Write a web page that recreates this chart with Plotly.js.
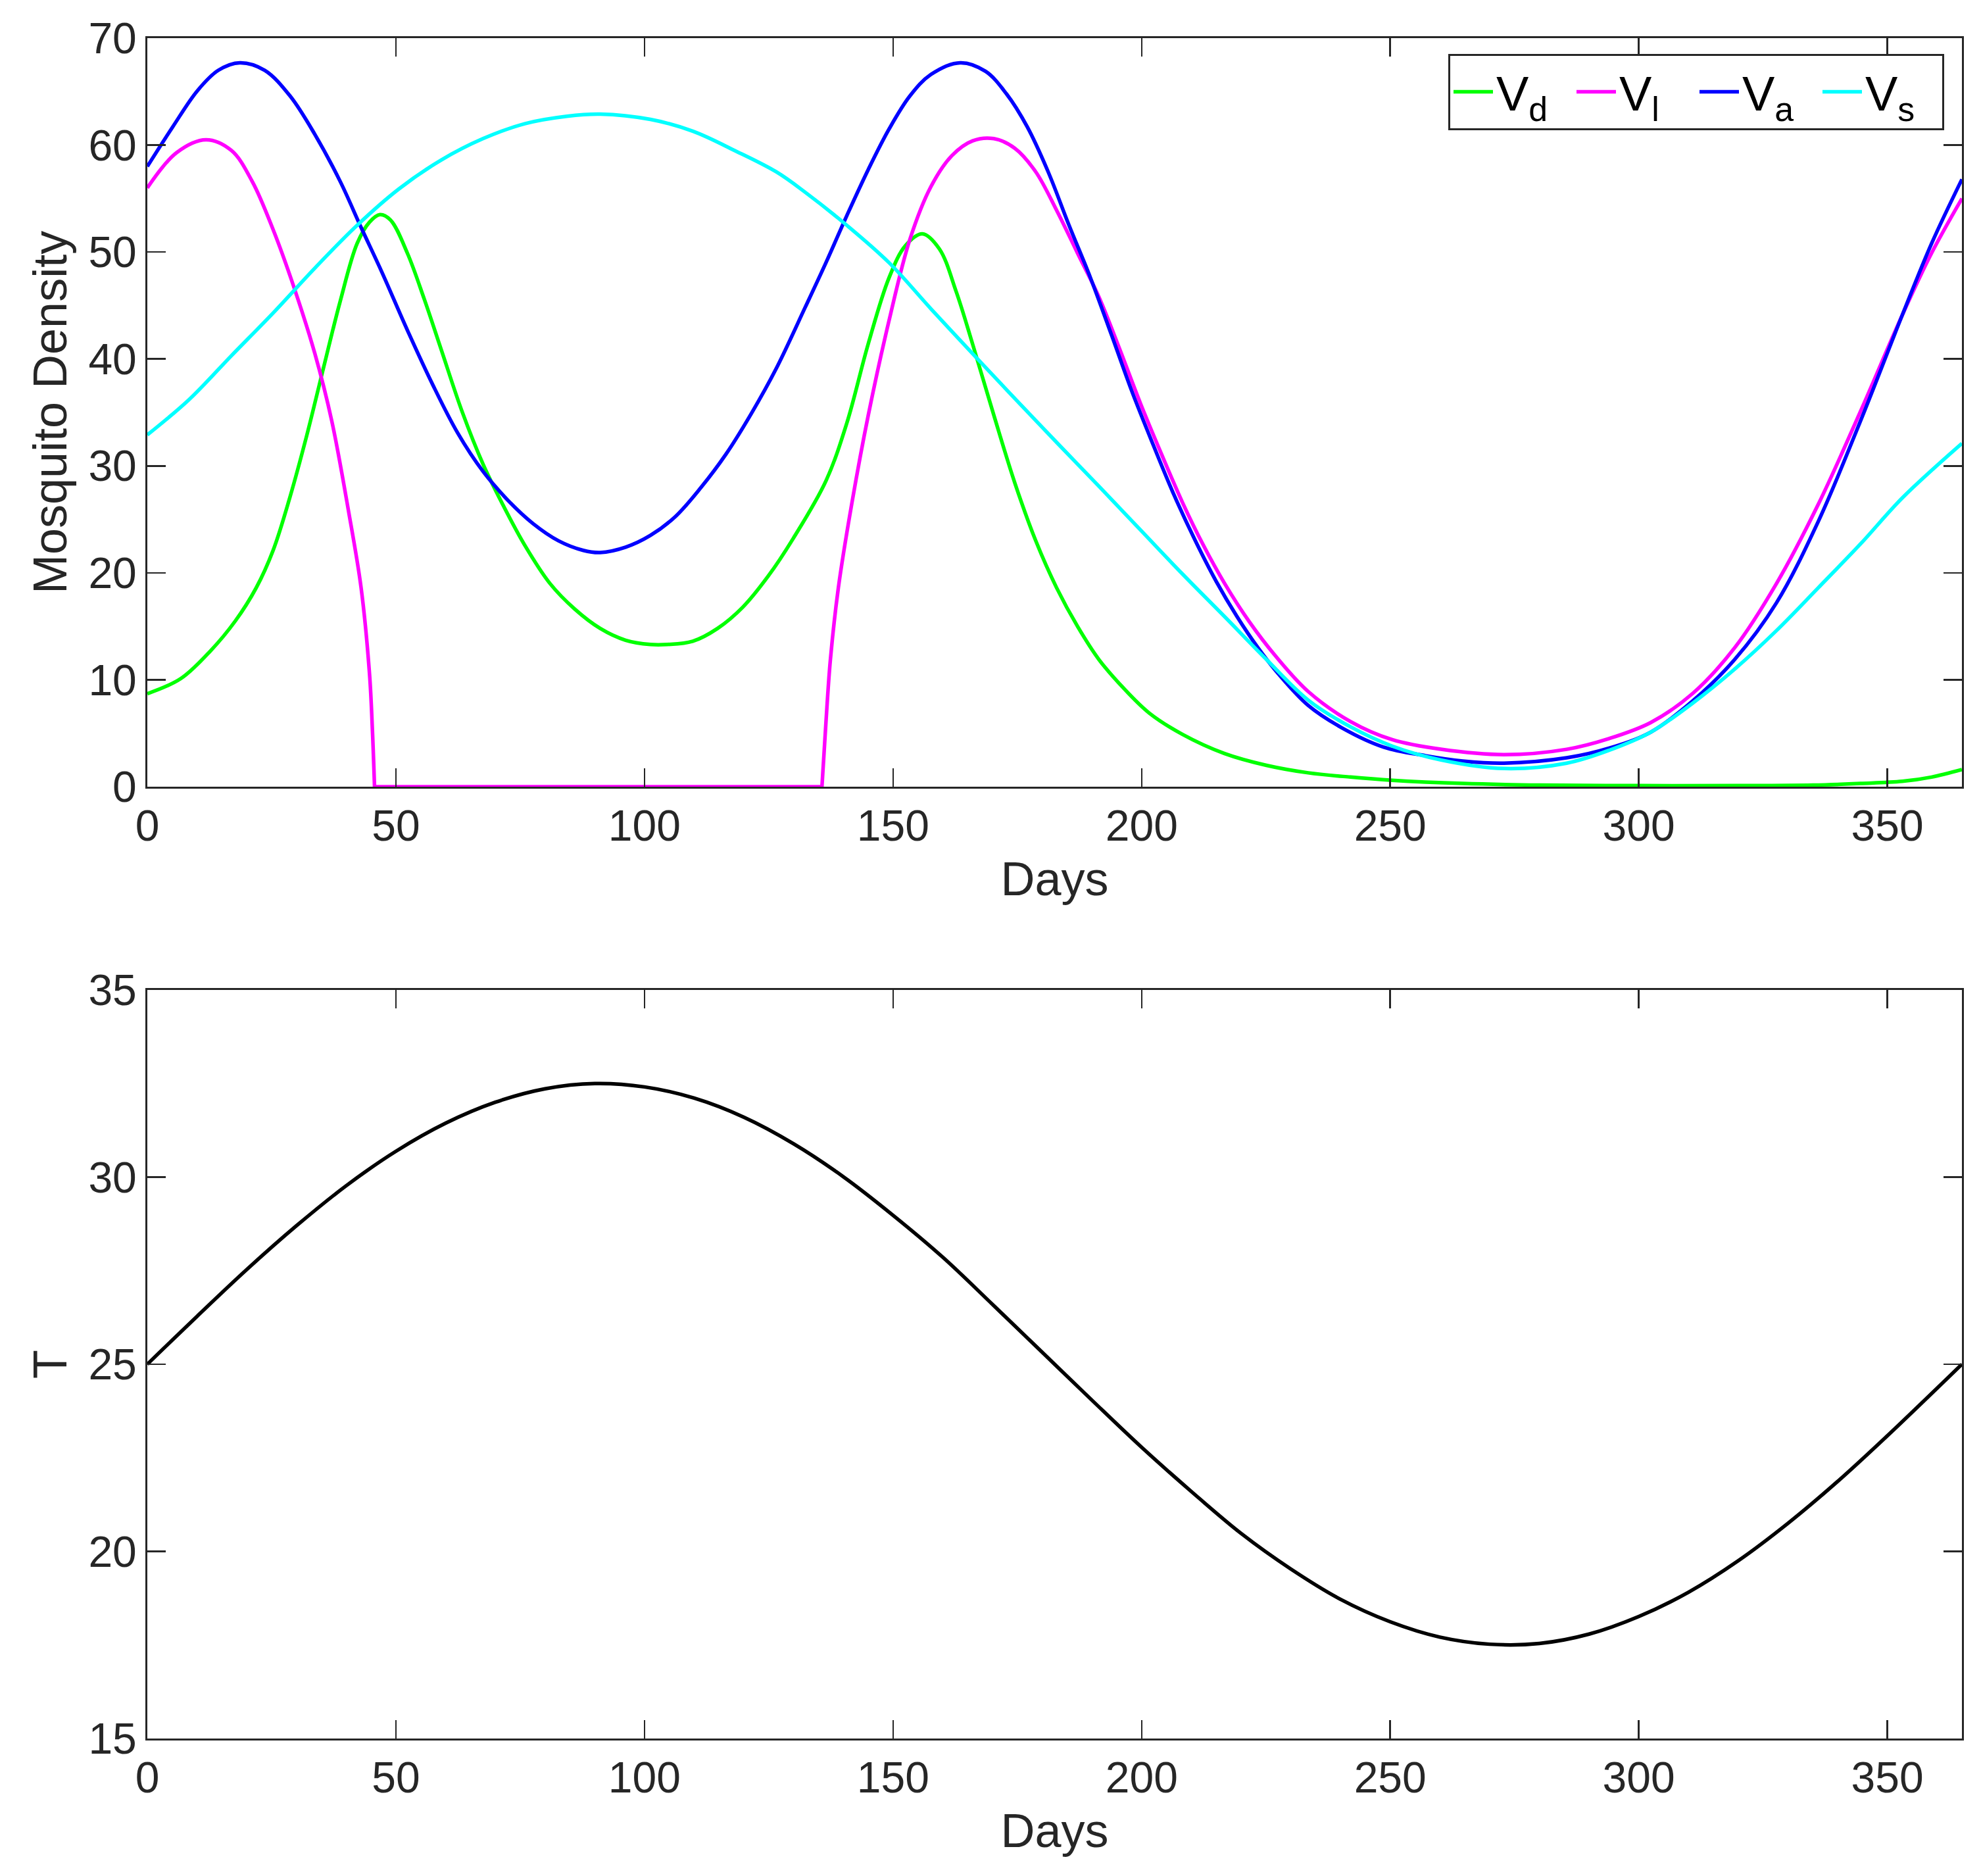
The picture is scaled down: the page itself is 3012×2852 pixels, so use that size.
<!DOCTYPE html>
<html>
<head>
<meta charset="utf-8">
<script src="https://cdn.plot.ly/plotly-3.0.1.min.js"></script>
<style>
  body { margin: 0; background: #fff; }
  #plot { width: 3012px; height: 2852px; }
</style>
</head>
<body>
<div id="plot"></div>
<script>
// values (days, density)
const vdDays = [0, 6.7, 12.7, 17.7, 21.9, 25.3, 28.7, 32.1, 35.4, 38.8, 42.2, 44.7, 46.8, 48.9, 52.3, 55.7, 59.1, 63.3,
  67.5, 71.7, 75.9, 81, 86, 91.1, 96.2, 101.2, 104.6, 109.7, 114.7, 119.8, 124.9, 129.9, 136.5, 140.7, 145,
  149.2, 152.5, 155.9, 159.3, 162.7, 166, 170.3, 174.5, 178.7, 182.9, 187.1, 191.4, 196.4, 201.5, 208.2, 216.7,
  225.1, 233.5, 242, 250.4, 264.6, 280, 300, 320, 335, 344.6, 353, 358.9, 365];
const vd = [8.7, 10.1, 12.7, 15.5, 18.6, 22.1, 27.1, 32.9, 39.1, 45.4, 50.8, 52.8, 53.5, 53.0, 49.9, 45.6, 40.9, 35.1,
  30.2, 26.2, 22.6, 19.0, 16.6, 14.8, 13.7, 13.3, 13.3, 13.6, 14.8, 16.8, 19.7, 23.2, 28.6, 34.0, 41.4,
  47.6, 50.6, 51.7, 50.3, 46.3, 41.4, 34.7, 28.4, 23.0, 18.6, 15.0, 11.9, 9.2, 6.9, 4.9, 3.1,
  2.0, 1.3, 0.9, 0.6, 0.3, 0.15, 0.1, 0.1, 0.15, 0.3, 0.5, 0.9, 1.6];

// V_l sits at zero between ~day 46 and ~day 136 (null = break between pieces)
const vlDays = [0, 5.9, 11.8, 16.9, 21.1, 25.3, 29.5, 33.7, 37.1, 40.5, 43, 44.7, 45.3, 45.7, null,
  45.7, 135.7, null,
  135.7, 136.5, 137.4, 139, 141.6, 145, 149.2, 153.4, 157.6, 161.8, 166, 170.3, 174.5, 178.7, 182.9, 187.1,
  191.4, 195.6, 199.8, 204, 208.2, 212.4, 216.7, 221.7, 226.8, 233.5, 242, 250.4, 260.2, 272.9, 285.5, 294,
  302.4, 310.8, 319.3, 327.7, 336.1, 344.6, 353, 358.9, 365];
const vl = [56.0, 59.3, 60.5, 59.5, 56.6, 52.1, 46.7, 40.5, 34.2, 25.7, 18.6, 10.5, 5.0, 0, null,
  0, 0, null,
  0, 6.0, 11.9, 18.6, 26.2, 34.7, 43.6, 51.2, 56.1, 59.0, 60.4, 60.6, 59.7, 57.5, 53.9, 49.9,
  45.8, 40.9, 35.8, 31.1, 26.6, 22.6, 19.0, 15.4, 12.3, 8.9, 6.1, 4.4, 3.5, 3.0, 3.5, 4.5,
  6.0, 8.7, 13.0, 19.0, 26.4, 35.1, 44.1, 49.9, 55.0];

const vaDays = [0, 5.1, 10.1, 14.3, 18.6, 23.6, 28.7, 33.7, 38.8, 43, 47.2, 52.3, 57.4, 62.4, 67.5, 72.5, 77.6, 82.7,
  87.7, 91.1, 96.2, 101.2, 106.3, 111.4, 116.4, 121.5, 126.5, 132.3, 136.5, 140.7, 145, 149.2, 153.4, 157.6, 163.5,
  168.6, 172.8, 177, 181.2, 185.4, 189.7, 193.9, 198.1, 202.3, 206.5, 210.8, 215, 219.2, 223.4, 227.6, 233.5,
  240.3, 248.7, 257.1, 264.6, 272.9, 285.5, 294, 302.4, 310.8, 319.3, 327.7, 336.1, 344.6, 353, 358.9, 365];
const va = [58.0, 61.7, 65.1, 67.0, 67.7, 67.0, 64.6, 61.0, 56.6, 52.3, 48.1, 42.7, 37.6, 33.1, 29.5, 26.8, 24.6, 23.0,
  22.1, 21.9, 22.4, 23.5, 25.3, 28.0, 31.1, 34.9, 39.1, 44.8, 49.0, 53.4, 57.7, 61.5, 64.6, 66.6, 67.7,
  66.9, 64.8, 61.7, 57.5, 52.5, 47.6, 42.3, 36.9, 32.0, 27.3, 23.0, 19.2, 15.9, 13.0, 10.5, 7.6,
  5.5, 3.7, 2.9, 2.4, 2.2, 2.7, 3.6, 5.1, 8.0, 11.9, 17.2, 24.8, 34.2, 44.1, 50.8, 56.8];

const vsDays = [0, 8.4, 16.9, 25.3, 33.7, 42.2, 50.6, 59.1, 67.5, 75.9, 84.4, 91.1, 101.2, 109.7, 118.1, 126.5, 132.3,
  140.7, 149.2, 157.6, 166, 174.5, 182.9, 191.4, 199.8, 208.2, 216.7, 225.1, 233.5, 242, 250.4, 260.2, 272.9,
  285.5, 294, 302.4, 310.8, 319.3, 327.7, 336.1, 344.6, 353, 365];
const vs = [32.9, 36.2, 40.3, 44.3, 48.5, 52.5, 55.9, 58.6, 60.6, 62.0, 62.7, 62.9, 62.4, 61.3, 59.5, 57.5, 55.6,
  52.5, 49.0, 44.7, 40.5, 36.3, 32.2, 28.1, 24.0, 19.9, 15.9, 11.9, 8.1, 5.6, 3.8, 2.5, 1.7,
  2.2, 3.4, 5.1, 7.8, 11.0, 14.6, 18.6, 22.7, 27.0, 32.1];

// temperature
const tDays = [0, 10, 20, 30, 40, 50, 60, 70, 80, 90, 100, 110, 120, 130, 140, 150, 160, 170, 180, 190, 200,
  210, 220, 230, 240, 250, 260, 270, 280, 290, 300, 310, 320, 330, 340, 350, 360, 365];
const temp = [25.0, 26.28, 27.53, 28.7, 29.77, 30.69, 31.44, 32.0, 32.36, 32.5, 32.41, 32.11, 31.6, 30.89, 30.01,
  28.98, 27.86, 26.6, 25.32, 24.04, 22.78, 21.6, 20.48, 19.53, 18.72, 18.12, 17.71, 17.52, 17.54, 17.79, 18.26,
  18.91, 19.75, 20.75, 21.87, 23.09, 24.36, 25.0];

const names = ["V<sub>d</sub>", "V<sub>l</sub>", "V<sub>a</sub>", "V<sub>s</sub>"];
const colors = ["#00ff00", "#ff00ff", "#0000ff", "#00ffff"];

const ink = "#262626";
const fontFam = "Liberation Sans, Arial, Helvetica, sans-serif";

let mkLine = (x, y, i) => ({
  x: x, y: y, type: "scatter", mode: "lines", name: names[i],
  line: {color: colors[i], width: 5.5, shape: "spline", smoothing: 1},
  xaxis: "x", yaxis: "y"
});

let traces = [
  mkLine(vdDays, vd, 0),
  mkLine(vlDays, vl, 1),
  mkLine(vaDays, va, 2),
  mkLine(vsDays, vs, 3),
  {
    x: tDays, y: temp, type: "scatter", mode: "lines", showlegend: false,
    line: {color: "#000000", width: 5.5, shape: "spline", smoothing: 1},
    xaxis: "x2", yaxis: "y2"
  }
];

let axisBase = {
  showline: true, linecolor: ink, linewidth: 3, mirror: "ticks",
  ticks: "inside", ticklen: 28, tickwidth: 2.5, tickcolor: ink,
  showgrid: false, zeroline: false,
  tickfont: {family: fontFam, size: 66, color: ink}
};

let xAx = (anchor) => Object.assign({}, axisBase, {
  domain: [0.07437, 0.99037], range: [0, 365], tick0: 0, dtick: 50, anchor: anchor,
  title: {text: "Days", font: {family: fontFam, size: 72, color: ink}, standoff: 20}
});

let layout = {
  width: 3012, height: 2852,
  margin: {l: 0, r: 0, t: 0, b: 0},
  paper_bgcolor: "#fff", plot_bgcolor: "#fff",
  font: {family: fontFam, color: ink},
  xaxis: xAx("y"),
  xaxis2: xAx("y2"),
  yaxis: Object.assign({}, axisBase, {
    domain: [0.58065, 0.97966], range: [0, 70], tick0: 0, dtick: 10, anchor: "x",
    title: {text: "Mosquito Density", font: {family: fontFam, size: 72, color: ink}, standoff: 10}
  }),
  yaxis2: Object.assign({}, axisBase, {
    domain: [0.07328, 0.47230], range: [15, 35], tick0: 15, dtick: 5, anchor: "x2",
    title: {text: "T", font: {family: fontFam, size: 72, color: ink}, standoff: 10}
  }),
  showlegend: true,
  legend: {
    orientation: "h", x: 0.9814, xanchor: "right", y: 0.97125, yanchor: "top",
    bgcolor: "#fff", bordercolor: ink, borderwidth: 3,
    font: {family: fontFam, size: 74, color: "#000"},
    entrywidth: 112, itemwidth: 60
  }
};

Plotly.newPlot("plot", traces, layout, {staticPlot: true});
</script>
</body>
</html>
